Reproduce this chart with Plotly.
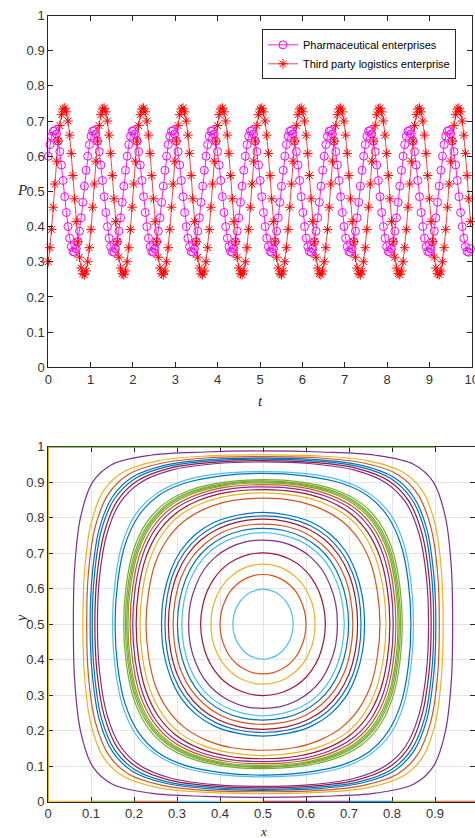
import plotly.graph_objects as go

# ---------------- data: top panel (time series, one sample every t_step) ----------------
t_step = 0.931 / 24
p_pharma = [
    0.600, 0.633, 0.657, 0.671, 0.673, 0.663, 0.643, 0.613, 0.575, 0.531, 0.485, 0.440, 0.400, 0.367, 0.343, 0.329, 0.327, 0.337, 0.357, 0.387, 0.425, 0.469, 0.515, 0.560,
    0.600, 0.633, 0.657, 0.671, 0.673, 0.663, 0.643, 0.613, 0.575, 0.531, 0.485, 0.440, 0.400, 0.367, 0.343, 0.329, 0.327, 0.337, 0.357, 0.387, 0.425, 0.469, 0.515, 0.560,
    0.600, 0.633, 0.657, 0.671, 0.673, 0.663, 0.643, 0.613, 0.575, 0.531, 0.485, 0.440, 0.400, 0.367, 0.343, 0.329, 0.327, 0.337, 0.357, 0.387, 0.425, 0.469, 0.515, 0.560,
    0.600, 0.633, 0.657, 0.671, 0.673, 0.663, 0.643, 0.613, 0.575, 0.531, 0.485, 0.440, 0.400, 0.367, 0.343, 0.329, 0.327, 0.337, 0.357, 0.387, 0.425, 0.469, 0.515, 0.560,
    0.600, 0.633, 0.657, 0.671, 0.673, 0.663, 0.643, 0.613, 0.575, 0.531, 0.485, 0.440, 0.400, 0.367, 0.343, 0.329, 0.327, 0.337, 0.357, 0.387, 0.425, 0.469, 0.515, 0.560,
    0.600, 0.633, 0.657, 0.671, 0.673, 0.663, 0.643, 0.613, 0.575, 0.531, 0.485, 0.440, 0.400, 0.367, 0.343, 0.329, 0.327, 0.337, 0.357, 0.387, 0.425, 0.469, 0.515, 0.560,
    0.600, 0.633, 0.657, 0.671, 0.673, 0.663, 0.643, 0.613, 0.575, 0.531, 0.485, 0.440, 0.400, 0.367, 0.343, 0.329, 0.327, 0.337, 0.357, 0.387, 0.425, 0.469, 0.515, 0.560,
    0.600, 0.633, 0.657, 0.671, 0.673, 0.663, 0.643, 0.613, 0.575, 0.531, 0.485, 0.440, 0.400, 0.367, 0.343, 0.329, 0.327, 0.337, 0.357, 0.387, 0.425, 0.469, 0.515, 0.560,
    0.600, 0.633, 0.657, 0.671, 0.673, 0.663, 0.643, 0.613, 0.575, 0.531, 0.485, 0.440, 0.400, 0.367, 0.343, 0.329, 0.327, 0.337, 0.357, 0.387, 0.425, 0.469, 0.515, 0.560,
    0.600, 0.633, 0.657, 0.671, 0.673, 0.663, 0.643, 0.613, 0.575, 0.531, 0.485, 0.440, 0.400, 0.367, 0.343, 0.329, 0.327, 0.337, 0.357, 0.387, 0.425, 0.469, 0.515, 0.560,
    0.600, 0.633, 0.657, 0.671, 0.673, 0.663, 0.643, 0.613, 0.575, 0.531, 0.485, 0.440, 0.400, 0.367, 0.343, 0.329, 0.327, 0.337,
]
p_logistics = [
    0.300, 0.340, 0.392, 0.455, 0.521, 0.586, 0.643, 0.687, 0.718, 0.734, 0.737, 0.726, 0.700, 0.660, 0.608, 0.545, 0.479, 0.414, 0.357, 0.313, 0.282, 0.266, 0.263, 0.274,
    0.300, 0.340, 0.392, 0.455, 0.521, 0.586, 0.643, 0.687, 0.718, 0.734, 0.737, 0.726, 0.700, 0.660, 0.608, 0.545, 0.479, 0.414, 0.357, 0.313, 0.282, 0.266, 0.263, 0.274,
    0.300, 0.340, 0.392, 0.455, 0.521, 0.586, 0.643, 0.687, 0.718, 0.734, 0.737, 0.726, 0.700, 0.660, 0.608, 0.545, 0.479, 0.414, 0.357, 0.313, 0.282, 0.266, 0.263, 0.274,
    0.300, 0.340, 0.392, 0.455, 0.521, 0.586, 0.643, 0.687, 0.718, 0.734, 0.737, 0.726, 0.700, 0.660, 0.608, 0.545, 0.479, 0.414, 0.357, 0.313, 0.282, 0.266, 0.263, 0.274,
    0.300, 0.340, 0.392, 0.455, 0.521, 0.586, 0.643, 0.687, 0.718, 0.734, 0.737, 0.726, 0.700, 0.660, 0.608, 0.545, 0.479, 0.414, 0.357, 0.313, 0.282, 0.266, 0.263, 0.274,
    0.300, 0.340, 0.392, 0.455, 0.521, 0.586, 0.643, 0.687, 0.718, 0.734, 0.737, 0.726, 0.700, 0.660, 0.608, 0.545, 0.479, 0.414, 0.357, 0.313, 0.282, 0.266, 0.263, 0.274,
    0.300, 0.340, 0.392, 0.455, 0.521, 0.586, 0.643, 0.687, 0.718, 0.734, 0.737, 0.726, 0.700, 0.660, 0.608, 0.545, 0.479, 0.414, 0.357, 0.313, 0.282, 0.266, 0.263, 0.274,
    0.300, 0.340, 0.392, 0.455, 0.521, 0.586, 0.643, 0.687, 0.718, 0.734, 0.737, 0.726, 0.700, 0.660, 0.608, 0.545, 0.479, 0.414, 0.357, 0.313, 0.282, 0.266, 0.263, 0.274,
    0.300, 0.340, 0.392, 0.455, 0.521, 0.586, 0.643, 0.687, 0.718, 0.734, 0.737, 0.726, 0.700, 0.660, 0.608, 0.545, 0.479, 0.414, 0.357, 0.313, 0.282, 0.266, 0.263, 0.274,
    0.300, 0.340, 0.392, 0.455, 0.521, 0.586, 0.643, 0.687, 0.718, 0.734, 0.737, 0.726, 0.700, 0.660, 0.608, 0.545, 0.479, 0.414, 0.357, 0.313, 0.282, 0.266, 0.263, 0.274,
    0.300, 0.340, 0.392, 0.455, 0.521, 0.586, 0.643, 0.687, 0.718, 0.734, 0.737, 0.726, 0.700, 0.660, 0.608, 0.545, 0.479, 0.414,
]
t_values = [i * t_step for i in range(len(p_pharma))]
series_names = ["Pharmaceutical enterprises", "Third party logistics enterprise"]

# ---------------- data: bottom panel (closed orbits, lower-left quarter of each) ----------------
orbit_left_x = [0.059, 0.081, 0.090, 0.098, 0.103, 0.109, 0.115,
                0.150, 0.156, 0.176, 0.180, 0.183, 0.186, 0.191, 0.197, 0.205, 0.214, 0.228,
                0.264, 0.272, 0.280, 0.291, 0.301, 0.311,
                0.327, 0.355, 0.379, 0.400, 0.430]
orbit_bottom_y = [0.012, 0.023, 0.028, 0.032, 0.035, 0.039, 0.043,
                  0.070, 0.075, 0.093, 0.096, 0.099, 0.102, 0.107, 0.113, 0.121, 0.130, 0.145,
                  0.185, 0.195, 0.204, 0.218, 0.230, 0.242,
                  0.263, 0.299, 0.331, 0.360, 0.401]
orbit_quarter_x = [
    [0.062, 0.076, 0.104, 0.149, 0.239, 0.365],
    [0.085, 0.100, 0.130, 0.177, 0.258, 0.374],
    [0.094, 0.110, 0.141, 0.187, 0.266, 0.377],
    [0.103, 0.119, 0.150, 0.196, 0.273, 0.380],
    [0.108, 0.124, 0.155, 0.202, 0.277, 0.382],
    [0.114, 0.131, 0.162, 0.208, 0.282, 0.385],
    [0.120, 0.137, 0.168, 0.214, 0.287, 0.387],
    [0.156, 0.173, 0.204, 0.249, 0.313, 0.400],
    [0.162, 0.179, 0.210, 0.254, 0.317, 0.403],
    [0.182, 0.199, 0.229, 0.272, 0.331, 0.410],
    [0.186, 0.203, 0.233, 0.276, 0.334, 0.411],
    [0.189, 0.206, 0.236, 0.278, 0.336, 0.412],
    [0.192, 0.209, 0.239, 0.281, 0.338, 0.414],
    [0.197, 0.214, 0.244, 0.285, 0.342, 0.415],
    [0.203, 0.220, 0.249, 0.290, 0.346, 0.417],
    [0.211, 0.228, 0.257, 0.297, 0.351, 0.420],
    [0.220, 0.237, 0.265, 0.304, 0.357, 0.423],
    [0.234, 0.250, 0.278, 0.316, 0.365, 0.428],
    [0.269, 0.285, 0.310, 0.344, 0.387, 0.440],
    [0.277, 0.292, 0.317, 0.350, 0.391, 0.442],
    [0.285, 0.300, 0.324, 0.356, 0.396, 0.445],
    [0.296, 0.310, 0.333, 0.364, 0.402, 0.448],
    [0.306, 0.320, 0.342, 0.371, 0.407, 0.451],
    [0.316, 0.329, 0.350, 0.378, 0.413, 0.454],
    [0.331, 0.344, 0.363, 0.389, 0.421, 0.459],
    [0.359, 0.370, 0.387, 0.409, 0.436, 0.466],
    [0.382, 0.392, 0.406, 0.425, 0.447, 0.473],
    [0.403, 0.411, 0.423, 0.439, 0.457, 0.478],
    [0.432, 0.438, 0.447, 0.458, 0.471, 0.485],
]
orbit_quarter_y = [
    [0.341, 0.197, 0.099, 0.050, 0.024, 0.015],
    [0.352, 0.217, 0.123, 0.070, 0.039, 0.026],
    [0.355, 0.225, 0.132, 0.078, 0.046, 0.031],
    [0.359, 0.232, 0.141, 0.086, 0.052, 0.036],
    [0.361, 0.236, 0.146, 0.090, 0.056, 0.040],
    [0.364, 0.241, 0.151, 0.096, 0.061, 0.044],
    [0.366, 0.246, 0.157, 0.102, 0.066, 0.048],
    [0.380, 0.272, 0.190, 0.135, 0.097, 0.076],
    [0.382, 0.277, 0.196, 0.140, 0.103, 0.082],
    [0.390, 0.291, 0.214, 0.159, 0.122, 0.100],
    [0.391, 0.294, 0.218, 0.163, 0.126, 0.104],
    [0.392, 0.296, 0.220, 0.166, 0.129, 0.106],
    [0.393, 0.298, 0.223, 0.169, 0.132, 0.109],
    [0.395, 0.301, 0.227, 0.174, 0.137, 0.114],
    [0.397, 0.306, 0.233, 0.180, 0.143, 0.120],
    [0.400, 0.311, 0.240, 0.188, 0.151, 0.128],
    [0.404, 0.317, 0.248, 0.196, 0.160, 0.138],
    [0.409, 0.326, 0.260, 0.210, 0.175, 0.152],
    [0.421, 0.350, 0.291, 0.246, 0.213, 0.193],
    [0.424, 0.355, 0.298, 0.254, 0.222, 0.202],
    [0.427, 0.360, 0.305, 0.262, 0.231, 0.211],
    [0.430, 0.367, 0.315, 0.274, 0.243, 0.224],
    [0.434, 0.374, 0.323, 0.284, 0.255, 0.236],
    [0.437, 0.380, 0.332, 0.294, 0.266, 0.249],
    [0.442, 0.390, 0.346, 0.311, 0.285, 0.268],
    [0.452, 0.407, 0.370, 0.340, 0.318, 0.304],
    [0.459, 0.422, 0.391, 0.366, 0.347, 0.335],
    [0.466, 0.436, 0.409, 0.388, 0.373, 0.363],
    [0.476, 0.454, 0.436, 0.421, 0.410, 0.404],
]
# trajectories lying on the border of the unit square
edge_left_y = [0.0, 1.0]
edge_top_x = [0.0, 0.9]
edge_bottom_breaks = [0.0, 0.1, 0.2, 0.3, 0.4, 0.5, 0.6, 0.7, 0.8, 0.9, 1.0]

# ---------------- styles ----------------
B, O, Y, P, G, C, R = "#0072BD", "#D95319", "#EDB120", "#7E2F8E", "#77AC30", "#4DBEEE", "#A2142F"
orbit_colors = [P, Y, O, B, B, R, P,
                C, B, G, G, G, G, O, P, R, Y, O,
                B, B, R, O, B, C,
                P, R, Y, O, C]
edge_bottom_colors = [Y, G, O, C, Y, R, P, B, G, O]

W, H = 475, 838
AXC = "#262626"
TICKFONT = dict(family="Liberation Sans, Arial, sans-serif", size=13, color="#333333")


def closed_orbit(x0, qx, qy, yb):
    lx = [x0] + list(qx) + [0.5]
    ly = [0.5] + list(qy) + [yb]
    rx = [1 - v for v in lx[::-1]][1:]
    ry = ly[::-1][1:]
    low_x, low_y = lx + rx, ly + ry
    up_x = low_x[::-1][1:]
    up_y = [1 - v for v in low_y[::-1]][1:]
    return low_x + up_x, low_y + up_y


fig = go.Figure()

# top panel
fig.add_trace(go.Scatter(
    x=t_values, y=p_pharma, name=series_names[0], mode="lines+markers",
    line=dict(color="#FF00FF", width=0.9),
    marker=dict(symbol="circle-open", size=8, color="#FF00FF", line=dict(width=1)),
    cliponaxis=False, xaxis="x", yaxis="y"))
fig.add_trace(go.Scatter(
    x=t_values, y=p_logistics, name=series_names[1], mode="lines+markers",
    line=dict(color="#FF3030", width=0.9),
    marker=dict(symbol="asterisk-open", size=8, color="#FF0000", line=dict(width=1, color="#FF0000")),
    cliponaxis=False, xaxis="x", yaxis="y"))

# bottom panel: boundary trajectories
fig.add_trace(go.Scatter(x=[edge_bottom_breaks[0]] * 2, y=edge_left_y, mode="lines",
                         line=dict(color=Y, width=2), showlegend=False, xaxis="x2", yaxis="y2"))
fig.add_trace(go.Scatter(x=edge_top_x, y=[edge_left_y[1]] * 2, mode="lines",
                         line=dict(color=G, width=2), showlegend=False, xaxis="x2", yaxis="y2"))
for i, col in enumerate(edge_bottom_colors):
    fig.add_trace(go.Scatter(x=edge_bottom_breaks[i:i + 2], y=[edge_left_y[0]] * 2, mode="lines",
                             line=dict(color=col, width=2), showlegend=False, xaxis="x2", yaxis="y2"))

# bottom panel: closed orbits
for x0, qx, qy, yb, col in zip(orbit_left_x, orbit_quarter_x, orbit_quarter_y, orbit_bottom_y, orbit_colors):
    ox, oy = closed_orbit(x0, qx, qy, yb)
    fig.add_trace(go.Scatter(x=ox, y=oy, mode="lines", line=dict(color=col, width=1.2, shape="spline"),
                             showlegend=False, hoverinfo="skip", xaxis="x2", yaxis="y2"))

common_axis = dict(ticks="inside", ticklen=5, tickwidth=1, tickcolor=AXC, showline=True,
                   linecolor=AXC, linewidth=1, mirror="ticks", zeroline=False, tickfont=TICKFONT,
                   automargin=False, ticklabeloverflow="allow")

top_x0, top_x1 = 48.3 / W, 471.7 / W
top_y0, top_y1 = (H - 367.3) / H, (H - 15.5) / H
bot_x0 = 48 / W
bot_xmax = (W - 48) / 430
bot_y0, bot_y1 = (H - 801.7) / H, (H - 446.7) / H

fig.update_layout(
    width=W, height=H, margin=dict(l=0, r=0, t=0, b=0, autoexpand=False),
    paper_bgcolor="white", plot_bgcolor="white",
    xaxis=dict(domain=[top_x0, top_x1], range=[0, 10], tick0=0, dtick=1, showgrid=False,
               anchor="y", **common_axis),
    yaxis=dict(domain=[top_y0, top_y1], range=[0, 1], tick0=0, dtick=0.1, showgrid=False,
               anchor="x", **common_axis),
    xaxis2=dict(domain=[bot_x0, 1], range=[0, bot_xmax], tick0=0, dtick=0.1, showgrid=True,
                gridcolor="#e4e4e4", gridwidth=1, layer="below traces", anchor="y2", **common_axis),
    yaxis2=dict(domain=[bot_y0, bot_y1], range=[0, 1], tick0=0, dtick=0.1, showgrid=True,
                gridcolor="#e4e4e4", gridwidth=1, layer="below traces", anchor="x2", **common_axis),
    showlegend=True,
    legend=dict(x=262 / W, y=(H - 29.3) / H, xanchor="left", yanchor="top",
                bgcolor="white", bordercolor=AXC, borderwidth=1,
                font=dict(family="Liberation Sans, Arial, sans-serif", size=11, color="black"),
                tracegroupgap=0, itemwidth=30),
    annotations=[
        dict(text="P", x=15 / W, y=(H - 180) / H, xref="paper", yref="paper", showarrow=False,
             font=dict(family="Liberation Serif, serif", size=15, color=AXC, style="italic")),
        dict(text="t", x=5, y=(H - 401) / H, xref="x", yref="paper", showarrow=False,
             font=dict(family="Liberation Serif, serif", size=15, color=AXC, style="italic")),
        dict(text="y", x=12 / W, y=(H - 625) / H, xref="paper", yref="paper", showarrow=False,
             textangle=-90, font=dict(family="Liberation Serif, serif", size=14, color=AXC, style="italic")),
        dict(text="x", x=0.5, y=(H - 822) / H, xref="x2", yref="paper", yanchor="top", showarrow=False,
             font=dict(family="Liberation Serif, serif", size=13, color=AXC, style="italic")),
    ],
)

fig.write_html("out.html", config={"displayModeBar": False},
               post_script="document.body.style.margin='0';document.body.style.overflow='hidden';")
